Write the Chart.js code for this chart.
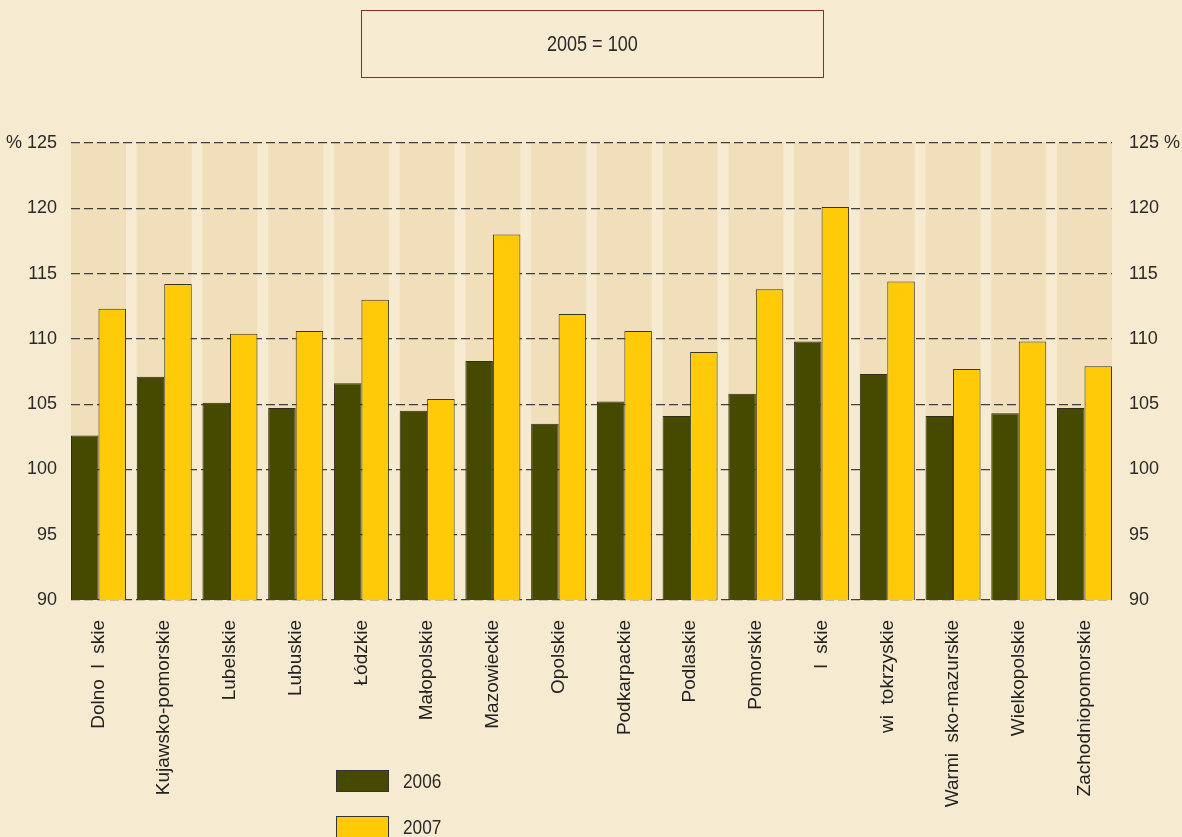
<!DOCTYPE html>
<html>
<head>
<meta charset="utf-8">
<script src="https://cdn.jsdelivr.net/npm/chart.js@4/dist/chart.umd.min.js"></script>
<style>
    html, body { margin: 0; padding: 0; background: #f6ebd0; }
    #wrap { position: relative; width: 1182px; height: 837px; overflow: hidden; }
    #base { position: absolute; left: 361px; top: 10px; width: 461px; height: 66px;
        border: 1px solid #8b2b2b; display: flex; align-items: center; justify-content: center;
        font-family: 'Liberation Sans', Arial, sans-serif; font-size: 22px; color: #2a2a2a; }
    #base span { display: inline-block; transform: scaleX(0.82); }
    .leg { position: absolute; left: 336px; height: 22px; display: flex; align-items: center;
        font-family: 'Liberation Sans', Arial, sans-serif; font-size: 21px; color: #2a2a2a; }
    .leg span.box { display: inline-block; width: 51px; height: 20px; border: 1px solid #333; margin-right: 14px; }
    .leg span.txt { display: inline-block; transform: scaleX(0.82); transform-origin: left center; }
</style>
</head>
<body>
<div id="wrap">
    <canvas id="chart" width="1182" height="837"></canvas>
    <div id="base"><span>2005 = 100</span></div>
    <div id="legend"></div>
</div>
<script>
'use strict';

// Voivodeships (labels as printed, with the missing glyphs left blank)
var regions = ['Dolno  l  skie', 'Kujawsko-pomorskie', 'Lubelskie', 'Lubuskie', 'Łódzkie',
    'Małopolskie', 'Mazowieckie', 'Opolskie', 'Podkarpackie', 'Podlaskie', 'Pomorskie',
    'l  skie', 'wi  tokrzyskie', 'Warmi  sko-mazurskie', 'Wielkopolskie', 'Zachodniopomorskie'];

var values2006 = [102.6, 107.1, 105.1, 104.7, 106.6, 104.5, 108.3, 103.5, 105.2, 104.1, 105.8,
    109.8, 107.3, 104.1, 104.3, 104.7];
var values2007 = [112.3, 114.2, 110.4, 110.6, 113.0, 105.4, 118.0, 111.9, 110.6, 109.0, 113.8,
    120.1, 114.4, 107.7, 109.8, 107.9];

var yTicks = [90, 95, 100, 105, 110, 115, 120, 125];

var tickFont = "'Liberation Sans', Arial, sans-serif";
var bandShare = 55 / 65.75;

function toPoints(values) {
    return values.map(function (v, i) { return { x: i, y: v }; });
}

// Shaded column behind each region
var bandsPlugin = {
    id: 'bands',
    beforeDraw: function (chart) {
        var ctx = chart.ctx;
        var area = chart.chartArea;
        var xs = chart.scales.x;
        var pitch = xs.getPixelForValue(1) - xs.getPixelForValue(0);
        var w = pitch * bandShare;
        ctx.save();
        ctx.fillStyle = '#f0dfba';
        regions.forEach(function (r, i) {
            var cx = xs.getPixelForValue(i);
            ctx.fillRect(cx - w / 2, area.top, w, area.bottom - area.top);
        });
        ctx.restore();
    }
};

var chart = new Chart(document.getElementById('chart').getContext('2d'), {
    type: 'bar',
    data: {
        datasets: [{
            label: '2006',
            data: toPoints(values2006),
            backgroundColor: '#454a00',
            borderColor: '#2e2e1e',
            borderWidth: 1,
            borderSkipped: false
        }, {
            label: '2007',
            data: toPoints(values2007),
            backgroundColor: '#ffcb08',
            borderColor: '#3a3526',
            borderWidth: 1,
            borderSkipped: false
        }]
    },
    options: {
        responsive: false,
        animation: false,
        categoryPercentage: bandShare,
        barPercentage: 1,
        layout: { padding: { top: 143, left: 0, right: 0, bottom: 0 } },
        plugins: {
            legend: { display: false },
            tooltip: { enabled: false }
        },
        scales: {
            x: {
                type: 'linear',
                offset: false,
                min: -0.5 + (1 - bandShare) / 2,
                max: regions.length - 0.5 - (1 - bandShare) / 2,
                grid: { display: false },
                border: { display: false },
                afterBuildTicks: function (axis) {
                    axis.ticks = regions.map(function (r, i) { return { value: i }; });
                },
                afterFit: function (axis) { axis.height = 237; },
                ticks: {
                    autoSkip: false,
                    minRotation: 90,
                    maxRotation: 90,
                    padding: 12,
                    color: '#222',
                    font: { family: tickFont, size: 19 },
                    callback: function (v) { return regions[v]; }
                }
            },
            y: {
                position: 'left',
                min: 90,
                max: 125,
                afterBuildTicks: function (axis) {
                    axis.ticks = yTicks.map(function (v) { return { value: v }; });
                },
                afterFit: function (axis) { axis.width = 71; },
                grid: { color: 'rgba(45, 45, 45, 0.9)', lineWidth: 1.2, drawTicks: false },
                border: { display: false, dash: [9, 4] },
                ticks: {
                    padding: 14,
                    color: '#2a2a2a',
                    font: { family: tickFont, size: 18 },
                    callback: function (v) { return v === 125 ? '% 125' : v; }
                }
            },
            y2: {
                position: 'right',
                min: 90,
                max: 125,
                afterBuildTicks: function (axis) {
                    axis.ticks = yTicks.map(function (v) { return { value: v }; });
                },
                afterFit: function (axis) { axis.width = 70; },
                grid: { display: false, drawTicks: false },
                border: { display: false },
                ticks: {
                    padding: 17,
                    color: '#2a2a2a',
                    font: { family: tickFont, size: 18 },
                    callback: function (v) { return v === 125 ? '125 %' : v; }
                }
            }
        }
    },
    plugins: [bandsPlugin]
});

// Legend, stacked vertically under the labels
var legendTops = [770, 816];
var legendBox = document.getElementById('legend');
chart.data.datasets.forEach(function (ds, i) {
    var item = document.createElement('div');
    item.className = 'leg';
    item.style.top = legendTops[i] + 'px';
    item.innerHTML = '<span class="box" style="background:' + ds.backgroundColor + '"></span>' +
        '<span class="txt">' + ds.label + '</span>';
    legendBox.appendChild(item);
});
</script>
</body>
</html>
